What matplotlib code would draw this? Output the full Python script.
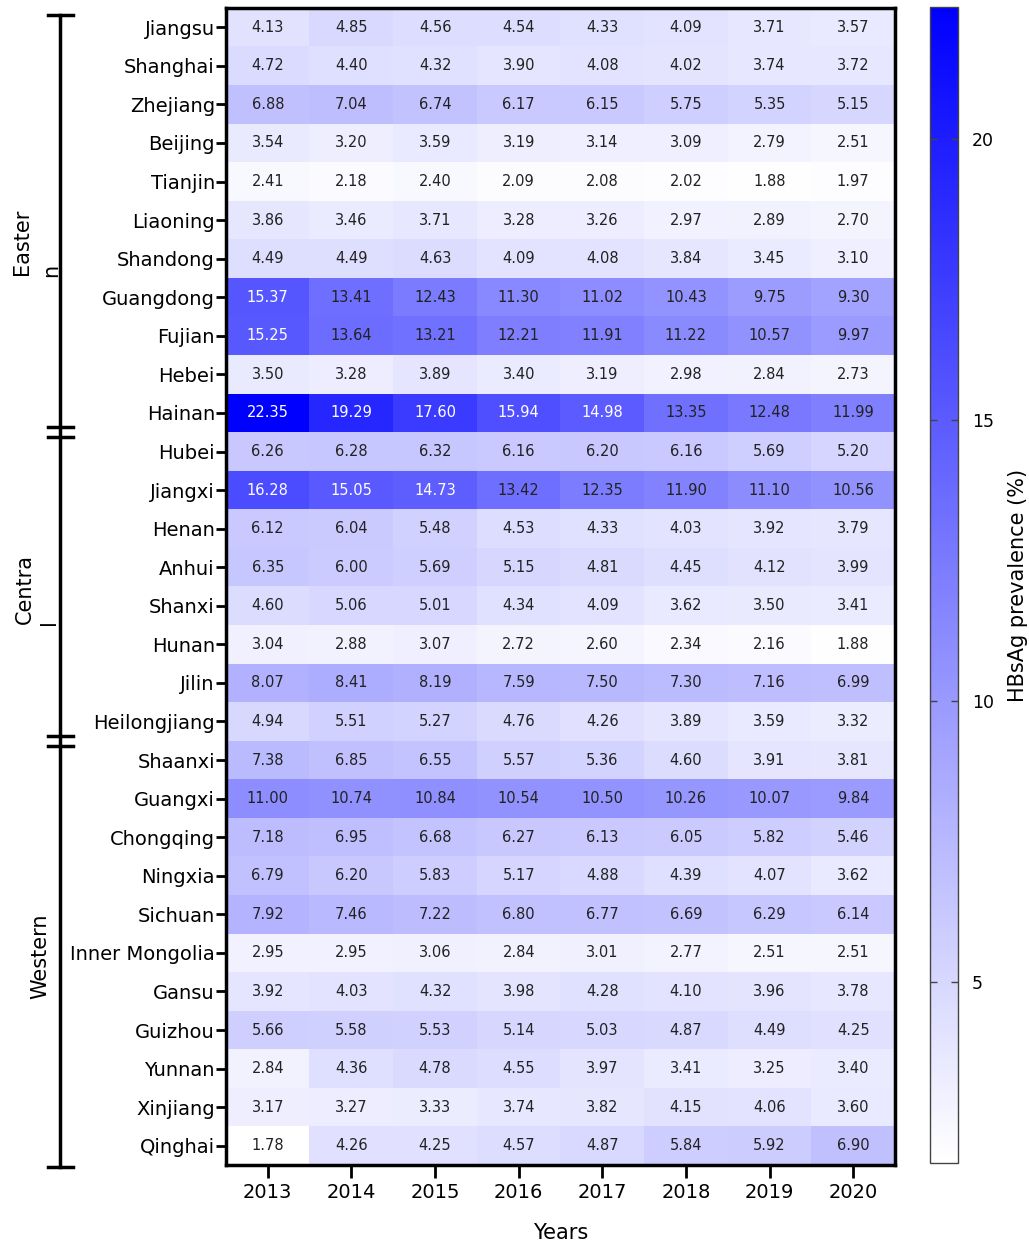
import numpy as np
import matplotlib
matplotlib.use("Agg")
import matplotlib.pyplot as plt
from matplotlib.colors import LinearSegmentedColormap
from matplotlib import transforms

plt.rcParams['font.family'] = ['DejaVu Sans']

# data
provinces = ["Jiangsu", "Shanghai", "Zhejiang", "Beijing", "Tianjin", "Liaoning",
             "Shandong", "Guangdong", "Fujian", "Hebei", "Hainan",
             "Hubei", "Jiangxi", "Henan", "Anhui", "Shanxi", "Hunan", "Jilin",
             "Heilongjiang",
             "Shaanxi", "Guangxi", "Chongqing", "Ningxia", "Sichuan",
             "Inner Mongolia", "Gansu", "Guizhou", "Yunnan", "Xinjiang", "Qinghai"]
years = ["2013", "2014", "2015", "2016", "2017", "2018", "2019", "2020"]

eastern = [
    [4.13, 4.85, 4.56, 4.54, 4.33, 4.09, 3.71, 3.57],
    [4.72, 4.40, 4.32, 3.90, 4.08, 4.02, 3.74, 3.72],
    [6.88, 7.04, 6.74, 6.17, 6.15, 5.75, 5.35, 5.15],
    [3.54, 3.20, 3.59, 3.19, 3.14, 3.09, 2.79, 2.51],
    [2.41, 2.18, 2.40, 2.09, 2.08, 2.02, 1.88, 1.97],
    [3.86, 3.46, 3.71, 3.28, 3.26, 2.97, 2.89, 2.70],
    [4.49, 4.49, 4.63, 4.09, 4.08, 3.84, 3.45, 3.10],
    [15.37, 13.41, 12.43, 11.30, 11.02, 10.43, 9.75, 9.30],
    [15.25, 13.64, 13.21, 12.21, 11.91, 11.22, 10.57, 9.97],
    [3.50, 3.28, 3.89, 3.40, 3.19, 2.98, 2.84, 2.73],
    [22.35, 19.29, 17.60, 15.94, 14.98, 13.35, 12.48, 11.99],
]
central = [
    [6.26, 6.28, 6.32, 6.16, 6.20, 6.16, 5.69, 5.20],
    [16.28, 15.05, 14.73, 13.42, 12.35, 11.90, 11.10, 10.56],
    [6.12, 6.04, 5.48, 4.53, 4.33, 4.03, 3.92, 3.79],
    [6.35, 6.00, 5.69, 5.15, 4.81, 4.45, 4.12, 3.99],
    [4.60, 5.06, 5.01, 4.34, 4.09, 3.62, 3.50, 3.41],
    [3.04, 2.88, 3.07, 2.72, 2.60, 2.34, 2.16, 1.88],
    [8.07, 8.41, 8.19, 7.59, 7.50, 7.30, 7.16, 6.99],
    [4.94, 5.51, 5.27, 4.76, 4.26, 3.89, 3.59, 3.32],
]
western = [
    [7.38, 6.85, 6.55, 5.57, 5.36, 4.60, 3.91, 3.81],
    [11.00, 10.74, 10.84, 10.54, 10.50, 10.26, 10.07, 9.84],
    [7.18, 6.95, 6.68, 6.27, 6.13, 6.05, 5.82, 5.46],
    [6.79, 6.20, 5.83, 5.17, 4.88, 4.39, 4.07, 3.62],
    [7.92, 7.46, 7.22, 6.80, 6.77, 6.69, 6.29, 6.14],
    [2.95, 2.95, 3.06, 2.84, 3.01, 2.77, 2.51, 2.51],
    [3.92, 4.03, 4.32, 3.98, 4.28, 4.10, 3.96, 3.78],
    [5.66, 5.58, 5.53, 5.14, 5.03, 4.87, 4.49, 4.25],
    [2.84, 4.36, 4.78, 4.55, 3.97, 3.41, 3.25, 3.40],
    [3.17, 3.27, 3.33, 3.74, 3.82, 4.15, 4.06, 3.60],
    [1.78, 4.26, 4.25, 4.57, 4.87, 5.84, 5.92, 6.90],
]

values = np.array(eastern + central + western)
n_rows, n_cols = values.shape

cmap = LinearSegmentedColormap.from_list("wb", ["#ffffff", "#0000ff"])

fig = plt.figure(figsize=(10.29, 12.43), dpi=100)
ax = fig.add_axes([226 / 1029, 1 - 1165 / 1243, 669 / 1029, 1157 / 1243])
cax = fig.add_axes([930 / 1029, 1 - 1163 / 1243, 28 / 1029, 1156 / 1243])

im = ax.imshow(values, cmap=cmap, vmin=values.min(), vmax=values.max(),
               aspect="auto", interpolation="nearest")

for i in range(n_rows):
    for j in range(n_cols):
        v = values[i, j]
        ax.text(j, i, f"{v:.2f}", ha="center", va="center", fontsize=10.5,
                color="white" if v > 14.5 else "#222222")

ax.set_xticks(range(n_cols))
ax.set_xticklabels(years, fontsize=14)
ax.set_yticks(range(n_rows))
ax.set_yticklabels(provinces, fontsize=14)
ax.tick_params(axis="y", length=7, width=2, pad=1)
ax.tick_params(axis="x", length=9, width=2, pad=4)
for s in ax.spines.values():
    s.set_linewidth(2.5)
ax.set_xlabel("Years", fontsize=15, labelpad=15)

# colorbar
cb = fig.colorbar(im, cax=cax, ticks=[5, 10, 15, 20])
cb.outline.set_linewidth(1)
cb.outline.set_edgecolor("#444444")
cax.tick_params(direction="in", length=5, width=1, labelsize=12.5, left=True, right=True,
                color="#444444", pad=10)
cb.set_label("HBsAg prevalence (%)", fontsize=15, labelpad=10)

# group brackets on the left
trans = transforms.blended_transform_factory(fig.transFigure, ax.transData)
xl = 60 / 1029
x0, x1 = 48 / 1029, 73 / 1029
lw = 2.5
top, bottom = -0.32, n_rows - 0.45
groups = [("Easter", 0, len(eastern)),
          ("Centra", len(eastern), len(eastern) + len(central)),
          ("Western", len(eastern) + len(central), n_rows)]
ax.plot([xl, xl], [top, bottom], color="black", lw=lw,
        transform=trans, clip_on=False)
ax.plot([x0, x1], [top, top], color="black", lw=lw, transform=trans, clip_on=False)
ax.plot([x0, x1], [bottom, bottom], color="black", lw=lw,
        transform=trans, clip_on=False)
for name, start, end in groups[1:]:
    b = start - 0.5
    for off in (-0.13, 0.13):
        ax.plot([x0, x1], [b + off, b + off], color="black", lw=lw,
                transform=trans, clip_on=False)

ax.text(22 / 1029, 5.57, "Easter", rotation=90, ha="center", va="center",
        fontsize=15, transform=trans)
ax.text(51 / 1029, 6.3, "n", rotation=90, ha="center", va="center",
        fontsize=15, transform=trans)
ax.text(25 / 1029, 14.56, "Centra", rotation=90, ha="center", va="center",
        fontsize=15, transform=trans)
ax.text(49 / 1029, 15.42, "l", rotation=90, ha="center", va="center",
        fontsize=15, transform=trans)
ax.text(40 / 1029, 24.1, "Western", rotation=90, ha="center", va="center",
        fontsize=15, transform=trans)

ax.set_xlim(-0.5, n_cols - 0.5)
ax.set_ylim(n_rows - 0.5, -0.5)

fig.savefig("out.png", dpi=100)
